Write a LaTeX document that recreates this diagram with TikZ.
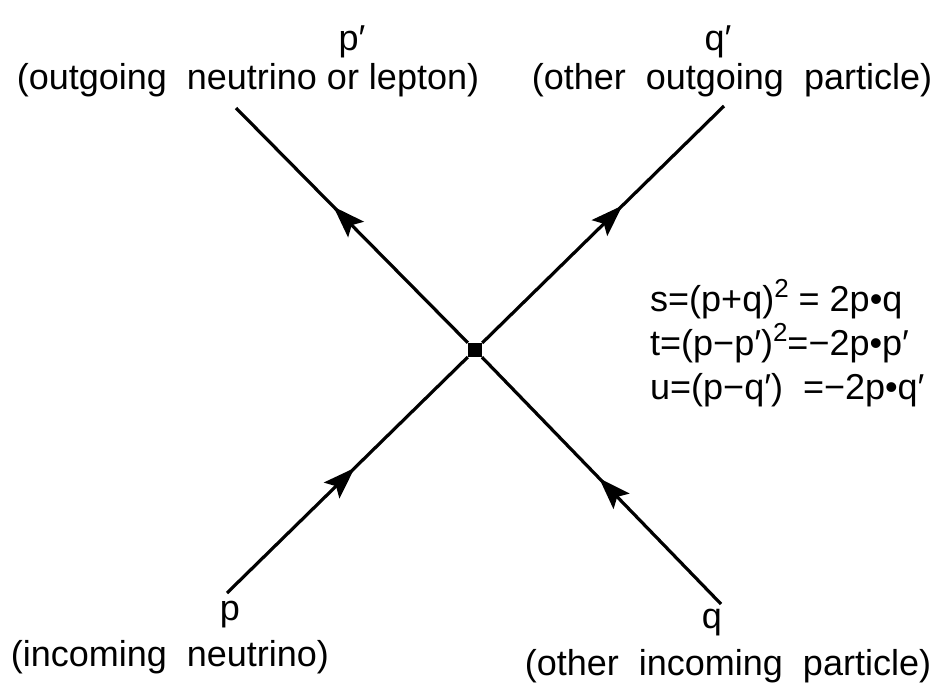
\documentclass[tikz,border=0pt]{standalone}
\usepackage{fontspec}
\setmainfont{Liberation Sans}
\usetikzlibrary{arrows.meta, decorations.markings}

\newcommand{\diagfont}{\fontsize{36}{44}\selectfont}
\newcommand{\sqr}{\raisebox{0.75ex}{\fontsize{26}{26}\selectfont 2}}

\tikzset{
    leg/.style={line width=3.2pt},
    midarrow/.style={postaction={decorate, decoration={markings,
        mark=at position #1 with {\arrow{Stealth[length=32pt, width=22pt, inset=6pt]}}}}},
    lbl/.style={font=\diagfont, inner sep=0pt}
}

\begin{document}
\begin{tikzpicture}[x=1pt, y=-1pt]
    \useasboundingbox (0,0) rectangle (943,697);

    % --- vertex and free ends of the four legs ---
    \node[fill, minimum size=14pt, inner sep=0pt] (vertex) at (475,350) {};
    \coordinate (pin)  at (227,593);
    \coordinate (qin)  at (721,604);
    \coordinate (pout) at (236,108);
    \coordinate (qout) at (724,106);

    % --- legs ---
    \draw[leg, midarrow=0.53] (pin) -- (vertex);
    \draw[leg, midarrow=0.51] (qin) -- (vertex);
    \draw[leg, midarrow=0.58] (vertex) -- (pout);
    \draw[leg, midarrow=0.58] (vertex) -- (qout);

    % --- labels at the top ---
    \node[lbl] (pprime) at (352,42) {p′};
    \node[lbl] (pprimetxt) at (248,80) {(outgoing \ neutrino or lepton)};
    \node[lbl] (qprime) at (718,42) {q′};
    \node[lbl] (qprimetxt) at (732,80) {(other \ outgoing \ particle)};

    % --- labels at the bottom ---
    \node[lbl] (plbl) at (230,615) {p};
    \node[lbl] (plbltxt) at (170,657) {(incoming \ neutrino)};
    \node[lbl] (qlbl) at (712,623) {q};
    \node[lbl] (qlbltxt) at (728,666) {(other \ incoming \ particle)};

    % Mandelstam variables
    \node[lbl, anchor=west, align=left] (invariants) at (650,343)
        {s=(p+q)\sqr{} = 2p•q\\
         t=(p−p′)\sqr{}=−2p•p′\\
         u=(p−q′) \ =−2p•q′};
\end{tikzpicture}
\end{document}
